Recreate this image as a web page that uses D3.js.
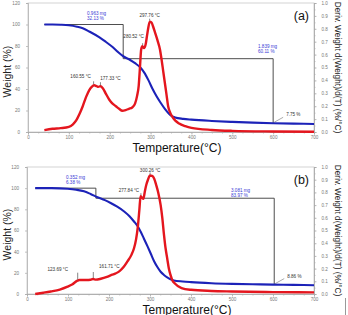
<!DOCTYPE html>
<html><head><meta charset="utf-8">
<script src="https://cdn.jsdelivr.net/npm/d3@7"></script>
<style>html,body{margin:0;padding:0;background:#fff;}svg{display:block;}</style>
</head><body>
<svg id="c" width="348" height="315"></svg>
<script>
// ---------- DATA ----------
const xTicks = [0,100,200,300,400,500,600,700];
const yLeftTicks = [0,20,40,60,80,100,120];
const yRightTicks = [0,0.1,0.2,0.3,0.4,0.5,0.6,0.7,0.8,0.9,1.0];

// Panel (a): weight (%) vs temperature
const aWeight = [[40,100],[60,100],[80,99.8],[100,99.3],[120,98],[134,96.5],[150,93.5],[175,88],[190,84],[207,79],[220,74.5],[235,70],[250,67],[262,64],[275,60],[285,55],[295,48],[305,40],[315,33],[325,27],[335,21.5],[345,17],[352,14.8],[360,13.5],[380,12.2],[400,11.5],[450,10.3],[500,9.4],[550,8.7],[600,8.1],[650,7.8],[700,7.5]];
// Panel (a): derivative weight (%/°C)
const aDeriv = [[40,0.015],[60,0.025],[80,0.03],[100,0.04],[110,0.06],[118,0.09],[126,0.14],[134,0.2],[142,0.27],[150,0.325],[156,0.35],[162,0.362],[168,0.355],[172,0.35],[177,0.355],[183,0.34],[190,0.3],[199,0.25],[207,0.22],[215,0.2],[223,0.18],[231,0.165],[239,0.17],[247,0.18],[255,0.19],[262,0.22],[267,0.28],[271,0.36],[274,0.5],[277,0.64],[280,0.665],[284,0.65],[288,0.68],[291,0.74],[294,0.8],[298,0.855],[302,0.85],[306,0.82],[311,0.77],[317,0.71],[323,0.64],[327,0.56],[331,0.47],[335,0.38],[339,0.29],[343,0.2],[348,0.15],[352,0.125],[360,0.09],[370,0.065],[385,0.045],[400,0.032],[450,0.016],[500,0.009],[600,0.004],[700,0.002]];
const aSteps = [[40,100],[233,100],[233,68.2],[600,68.2],[600,8.1]];
const aPeaks = [["160.55 °C",160.55,0.362],["177.33 °C",177.33,0.355],["280.52 °C",280.52,0.665],["297.76 °C",297.76,0.855]];
const aLosses = [["0.963 mg","32.13 %"],["1.839 mg","60.11 %"]];
const aResidue = "7.75 %";

// Panel (b)
const bWeight = [[20,100],[60,100],[99,99.4],[120,98.5],[139,97],[155,94.5],[172,91.5],[190,88.7],[204,86],[220,82.5],[237,78],[250,73.5],[261,68.5],[270,64],[277,59],[285,52.5],[294,45],[302,38],[310,31],[318,25.5],[326,21],[334,18],[342,15.7],[350,14],[358,12.8],[380,11.8],[400,11.2],[450,10.2],[500,9.6],[550,9.2],[600,8.9],[650,8.6],[700,8.3]];
const bDeriv = [[20,0],[40,0.01],[58,0.02],[80,0.035],[99,0.058],[110,0.075],[123,0.105],[128,0.11],[135,0.11],[145,0.11],[155,0.112],[161,0.118],[168,0.113],[180,0.12],[195,0.135],[204,0.147],[215,0.16],[225,0.178],[235,0.21],[245,0.257],[255,0.31],[261,0.36],[266,0.43],[270,0.52],[274,0.66],[277,0.77],[280,0.76],[284,0.75],[287,0.8],[291,0.86],[295,0.9],[300,0.933],[305,0.93],[310,0.91],[315,0.86],[320,0.8],[326,0.7],[330,0.6],[334,0.47],[338,0.36],[342,0.28],[346,0.2],[350,0.15],[355,0.105],[360,0.085],[377,0.047],[400,0.033],[450,0.024],[500,0.02],[600,0.015],[700,0.013]];
const bSteps = [[20,100],[168,100],[168,90.5],[603,90.5],[603,8.9]];
const bPeaks = [["123.69 °C",123.69,0.105],["161.71 °C",161.71,0.118],["277.84 °C",277.84,0.77],["300.26 °C",300.26,0.933]];
const bLosses = [["0.352 mg","6.38 %"],["3.081 mg","83.97 %"]];
const bResidue = "8.86 %";

// ---------- DRAW ----------
const svg = d3.select("#c");
const FONT = "Liberation Sans, Arial, sans-serif";
const RED = "#e4161e", BLUE = "#1c22b8", ANN = "#3b3bd6";

function panel(o){
  const g = svg.append("g");
  const x = d3.scaleLinear().domain([0,700]).range([o.left,o.right]);
  const yL = d3.scaleLinear().domain([0,120]).range([o.bottom,o.top]);
  const yR = d3.scaleLinear().domain([0,1]).range([o.bottom,o.top]);
  // frame
  g.append("rect").attr("x",o.left).attr("y",o.top).attr("width",o.right-o.left).attr("height",o.bottom-o.top)
    .attr("fill","none").attr("stroke","#c8c8c8").attr("stroke-width",0.8);
  const styleAx = s => { s.selectAll("path,line").attr("stroke","#aaa").attr("stroke-width",0.7);
    s.selectAll("text").attr("fill","#777").attr("font-size","4.6px").attr("font-family",FONT); };
  g.append("g").attr("transform",`translate(0,${o.bottom})`)
    .call(d3.axisBottom(x).tickValues(d3.range(0,701,25)).tickSize(1.5).tickFormat(""))
    .call(styleAx);
  g.append("g").attr("transform",`translate(0,${o.bottom})`)
    .call(d3.axisBottom(x).tickValues(xTicks).tickSize(2.5).tickPadding(1).tickFormat(d3.format("d")))
    .call(styleAx);
  g.append("g").attr("transform",`translate(${o.left},0)`)
    .call(d3.axisLeft(yL).tickValues(yLeftTicks).tickSize(2).tickPadding(6).tickFormat(d3.format("d")))
    .call(styleAx);
  g.append("g").attr("transform",`translate(${o.right},0)`)
    .call(d3.axisRight(yR).tickValues(d3.range(0,1.001,0.05)).tickSize(1.5).tickFormat(""))
    .call(styleAx);
  g.append("g").attr("transform",`translate(${o.right},0)`)
    .call(d3.axisRight(yR).tickValues(yRightTicks).tickSize(2.5).tickPadding(5).tickFormat(d3.format(".1f")))
    .call(styleAx);

  // step annotation lines
  g.append("path").attr("d", d3.line().x(d=>x(d[0])).y(d=>yL(d[1]))(o.steps))
    .attr("fill","none").attr("stroke","#3a3a3a").attr("stroke-width",0.9);

  // curves
  g.append("path").attr("d", d3.line().curve(d3.curveMonotoneX).x(d=>x(d[0])).y(d=>yL(d[1]))(o.weight))
    .attr("fill","none").attr("stroke",BLUE).attr("stroke-width",2.1);
  g.append("path").attr("d", d3.line().curve(d3.curveMonotoneX).x(d=>x(d[0])).y(d=>yR(d[1]))(o.deriv))
    .attr("fill","none").attr("stroke",RED).attr("stroke-width",2.4);

  // peak labels
  o.peaks.forEach((p,i)=>{
    const px = x(p[1]), py = yR(p[2]);
    g.append("line").attr("x1",px).attr("y1",py-1).attr("x2",px).attr("y2",py-o.peakTick[i])
      .attr("stroke","#333").attr("stroke-width",0.6);
    g.append("text").attr("x",px+o.peakDx[i]).attr("y",py+o.peakDy[i])
      .attr("font-size","4.6px").attr("font-family",FONT).attr("fill","#333").attr("text-anchor","middle").text(p[0]);
  });
  // loss labels
  o.losses.forEach((l,i)=>{
    const t = g.append("text").attr("x",o.lossPos[i][0]).attr("y",o.lossPos[i][1])
      .attr("font-size","4.6px").attr("font-family",FONT).attr("fill",ANN);
    t.append("tspan").attr("x",o.lossPos[i][0]).text(l[0]);
    t.append("tspan").attr("x",o.lossPos[i][0]).attr("dy",4.6).text(l[1]);
  });
  // residue
  const last = o.steps[o.steps.length-1];
  const rx = x(last[0]), ry = yL(last[1]);
  g.append("line").attr("x1",rx+1).attr("y1",ry-1).attr("x2",rx+10).attr("y2",ry-6).attr("stroke","#555").attr("stroke-width",0.5);
  g.append("text").attr("x",rx+13).attr("y",ry-7).attr("font-size","4.6px").attr("font-family",FONT).attr("fill","#333").text(o.residue);

  // titles
  g.append("text").attr("transform",`translate(${o.ylx},${(o.top+o.bottom)/2+4}) rotate(-90)`)
    .attr("text-anchor","middle").attr("font-size","10.5px").attr("font-family",FONT).attr("fill","#222").text("Weight (%)");
  g.append("text").attr("transform",`translate(${o.yrx},${(o.top+o.bottom)/2}) rotate(90)`)
    .attr("text-anchor","middle").attr("font-size","8.3px").attr("font-family",FONT).attr("fill","#222").text("Deriv. Weight d(Weight)/d(T) (%/°C)");
  g.append("text").attr("x",o.xlx).attr("y",o.xly).attr("text-anchor","middle")
    .attr("font-size","12px").attr("font-family",FONT).attr("fill","#111").text("Temperature(°C)");
  g.append("text").attr("x",o.right-5).attr("y",o.top+17).attr("text-anchor","end")
    .attr("font-size","12.5px").attr("font-family",FONT).attr("fill","#111").text(o.tag);
}

panel({left:28,right:314,top:3,bottom:132,weight:aWeight,deriv:aDeriv,steps:aSteps,peaks:aPeaks,
  peakTick:[4,4,3,3],peakDx:[-13,10,-9,0],peakDy:[-7,-6,-8,-5],
  losses:aLosses,lossPos:[[87,15],[258,48]],residue:aResidue,
  ylx:11,yrx:335,xlx:177,xly:151.5,tag:"(a)"});
panel({left:27,right:314,top:167,bottom:294,weight:bWeight,deriv:bDeriv,steps:bSteps,peaks:bPeaks,
  peakTick:[8,7,3,3],peakDx:[-20,16,-12,0],peakDy:[-10,-11,-4,-4],
  losses:bLosses,lossPos:[[66,179],[231,192]],residue:bResidue,
  ylx:11,yrx:335,xlx:187,xly:313.5,tag:"(b)"});

// small mark at bottom right edge
svg.append("line").attr("x1",345.5).attr("y1",298).attr("x2",345.5).attr("y2",315).attr("stroke","#999").attr("stroke-width",1);
</script>
</body></html>
